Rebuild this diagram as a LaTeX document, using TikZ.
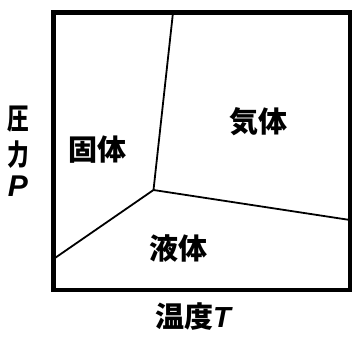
\documentclass[tikz,border=0pt]{standalone}
\usepackage{fontspec}
\newfontfamily\cjk{Noto Sans CJK JP Black}
\newfontfamily\lat{Liberation Sans}
\tikzset{
  region/.style={font=\cjk\fontsize{29}{29}\selectfont, inner sep=0pt},
  axis/.style={font=\cjk\fontsize{29}{29}\selectfont, inner sep=0pt},
  frame/.style={line width=4.5pt},
  boundary/.style={line width=1.8pt}
}
\begin{document}
\begin{tikzpicture}[x=1pt,y=-1pt]
\useasboundingbox (0,0) rectangle (352,336);
\draw[frame] (53.5,12.5) rectangle (350,290);
\coordinate (top) at (173,12.5);
\coordinate (tp) at (153.5,190);
\coordinate (lft) at (53.5,259);
\coordinate (rgt) at (350,220);
\draw[boundary] (top) -- (tp);
\draw[boundary] (lft) -- (tp) -- (rgt);
\node[region] (solid) at (97.5,150) {固体};
\node[region] (gas) at (258,122) {気体};
\node[region] (liquid) at (178,248) {液体};
\node[axis, xscale=0.75] (p1) at (18,119.5) {圧};
\node[axis, xscale=0.75] (p2) at (18,155) {力};
\node[axis, font=\lat\bfseries\itshape\fontsize{30}{30}\selectfont] (p3) at (18,186) {P};
\node[region, anchor=west] (temp) at (155,316.5) {温度\lat\bfseries\itshape T};
\end{tikzpicture}
\end{document}
